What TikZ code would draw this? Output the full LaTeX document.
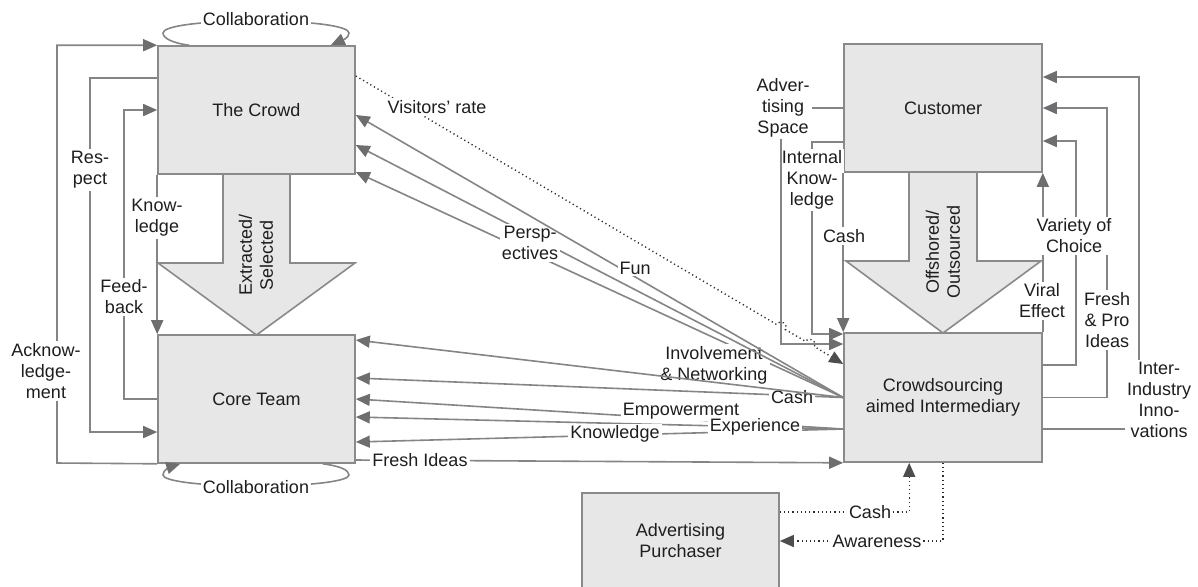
\documentclass[tikz,border=0pt]{standalone}
\usepackage{fontspec}
\setmainfont{Liberation Sans}
\usetikzlibrary{arrows.meta,calc}
\definecolor{boxfill}{HTML}{E7E7E8}
\definecolor{boxline}{HTML}{8A8A8A}
\definecolor{linegray}{HTML}{858585}
\definecolor{tipgray}{HTML}{6E6E70}
\definecolor{dotcol}{HTML}{2E2E2E}
\definecolor{txt}{HTML}{1E1E1E}
\newcommand{\labfont}{\fontsize{9}{10.5}\selectfont}
\begin{document}
\begin{tikzpicture}[x=0.5pt,y=-0.5pt,
  box/.style={draw=boxline, fill=boxfill, line width=0.8pt, inner sep=0pt, align=center, font=\labfont, text=txt},
  bigarrow/.style={draw=boxline, fill=boxfill, line width=0.8pt, line join=miter},
  conn/.style={draw=linegray, line width=0.8pt, -{Triangle[length=7pt,width=6pt,color=tipgray]}},
  dotconn/.style={draw=dotcol, line width=0.7pt, dash pattern=on 0.6pt off 1.5pt, -{Triangle[length=7pt,width=6pt,color=dotcol!85!white]}},
  lab/.style={fill=white, inner sep=1pt, align=center, font=\labfont, text=txt},
  vlab/.style={inner sep=0pt, align=center, font=\labfont, text=txt, rotate=90},
]
\useasboundingbox (0,0) rectangle (1198,586);
\clip (0,0) rectangle (1198,586);

% broad flow arrows below the two upper boxes
\path[bigarrow] (223,174) -- (223,263) -- (158,263) -- (256.5,335) -- (355,263) -- (290,263) -- (290,174);
\path[bigarrow] (909,172) -- (909,261) -- (846,261) -- (943,333) -- (1041,261) -- (977,261) -- (977,172);

% actors
\node[box, minimum width=98.5pt, minimum height=64pt] (crowd) at (256.5,110) {The Crowd};
\node[box, minimum width=98.5pt, minimum height=64pt] (core) at (256.5,399) {Core Team};
\node[box, minimum width=99pt, minimum height=64pt] (customer) at (943,108) {Customer};
\node[box, minimum width=99pt, minimum height=64.5pt] (inter) at (943,397.5) {Crowdsourcing\\aimed Intermediary};
\node[box, minimum width=98.5pt, minimum height=48pt] (purchaser) at (680.5,541) {Advertising\\Purchaser};

\node[vlab] (extract) at (256,255) {Extracted/\\Selected};
\node[vlab] (offshore) at (943,252) {Offshored/\\Outsourced};

% collaboration loops
\draw[conn] ($(crowd.north west)+(32,0)$) .. controls (172,43) and (163,38) .. (163,33)
  .. controls (163,26) and (200,21) .. (256,21)
  .. controls (312,21) and (349,26) .. (349,33)
  .. controls (349,39) and (340,41) .. ($(crowd.north east)+(-25,0)$);
\draw[conn] ($(core.south east)+(-33,0)$) .. controls (340,466) and (349,470) .. (349,475)
  .. controls (349,481) and (312,486) .. (256,486)
  .. controls (200,486) and (163,481) .. (163,475)
  .. controls (163,470) and (170,467) .. ($(core.south west)+(23,0)$);
\node[lab] (collabtop) at (256,19) {Collaboration};
\node[lab] (collabbot) at (256,487) {Collaboration};

% left-hand feedback loops
\draw[conn] (core.south west) -- (57,463) |- (crowd.north west);
\draw[conn] (crowd.west |- 0,78) -- (90,78) |- (core.west |- 0,432);
\draw[conn] (core.west) -- (124,399) |- (crowd.west);
\draw[conn] (crowd.south west) -- (core.north west);
\node[lab] (ack) at (46,371) {Acknow-\\ledge-\\ment};
\node[lab] (respect) at (90,170) {Res-\\pect};
\node[lab] (feedback) at (124,297) {Feed-\\back};
\node[lab] (knowl) at (157,218) {Know-\\ledge};

% intermediary towards the crowd
\draw[conn] (inter.west) -- (crowd.east |- 0,172);
\node[lab] (involve) at (714,365) {Involvement\\\& Networking};
\draw[conn] (inter.west) -- (crowd.east |- 0,145);
\node[lab] (persp) at (530,243) {Persp-\\ectives};
\draw[conn] (inter.west) -- (crowd.east |- 0,115);
\node[lab] (fun) at (635,268) {Fun};

% intermediary towards the core team
\draw[conn] (inter.west) -- (core.east |- 0,378);
\draw[conn] (inter.west |- 0,429) -- (core.east);
\draw[conn] (inter.west |- 0,429) -- (core.east |- 0,417);
\draw[conn] (inter.west |- 0,429) -- (core.east |- 0,442);
\draw[conn] (core.east |- 0,460) -- (inter.south west);
\node[lab] (casha) at (792,397) {Cash};
\node[lab] (empower) at (681,411) {Empowerment};
\node[lab] (experience) at (755,427) {Experience};
\node[lab] (knowr) at (615,434) {Knowledge};
\node[lab] (freshideas) at (420,460) {Fresh Ideas};
\draw[conn] (inter.west) -- (core.east |- 0,340);

% customer towards the intermediary
\draw[conn] (customer.west |- 0,142) -- (812,142) -- (812,334) -- (inter.west |- 0,334);
\node[lab] (intknow) at (812,180) {Internal\\Know-\\ledge};
\draw[conn] (customer.west) -- (781,108) -- (781,344) -- (inter.west |- 0,344);
\node[lab] (advspace) at (783,108) {Adver-\\tising\\Space};
\draw[conn] (customer.south west) -- (inter.north west);
\node[lab] (cashc) at (844,236) {Cash};

% visitors' rate, hopping over the advertising space line
\draw[dotconn] (crowd.east |- 0,76) -- (776.7,324.5)
  .. controls (780.0,318.9) and (788.6,323.9) .. (785.3,329.5) -- (805.7,341.5)
  .. controls (809.0,335.9) and (817.6,340.9) .. (814.3,346.5) -- (inter.west |- 0,364);
\node[lab] (visitors) at (437,107) {Visitors’ rate};

% intermediary towards the customer
\draw[conn] (inter.north east) -- (customer.south east);
\draw[conn] (inter.east |- 0,365) -- (1076,365) |- (customer.east |- 0,141);
\draw[conn] (inter.east) -- (1107,397.5) |- (customer.east);
\draw[conn] (inter.east |- 0,429) -- (1139,429) |- (customer.east |- 0,77);
\node[lab] (variety) at (1074,236) {Variety of\\Choice};
\node[lab] (viral) at (1042,301) {Viral\\Effect};
\node[lab] (freshpro) at (1107,320) {Fresh\\\& Pro\\Ideas};
\node[lab] (interind) at (1159,400) {Inter-\\Industry\\Inno-\\vations};

% advertising purchaser
\draw[dotconn] (purchaser.east |- 0,512) -| ($(inter.south west)+(66,0)$);
\draw[dotconn] (inter.south) |- (purchaser.east);
\node[lab] (cashb) at (870,512) {Cash};
\node[lab] (awareness) at (877,541) {Awareness};
\end{tikzpicture}
\end{document}
